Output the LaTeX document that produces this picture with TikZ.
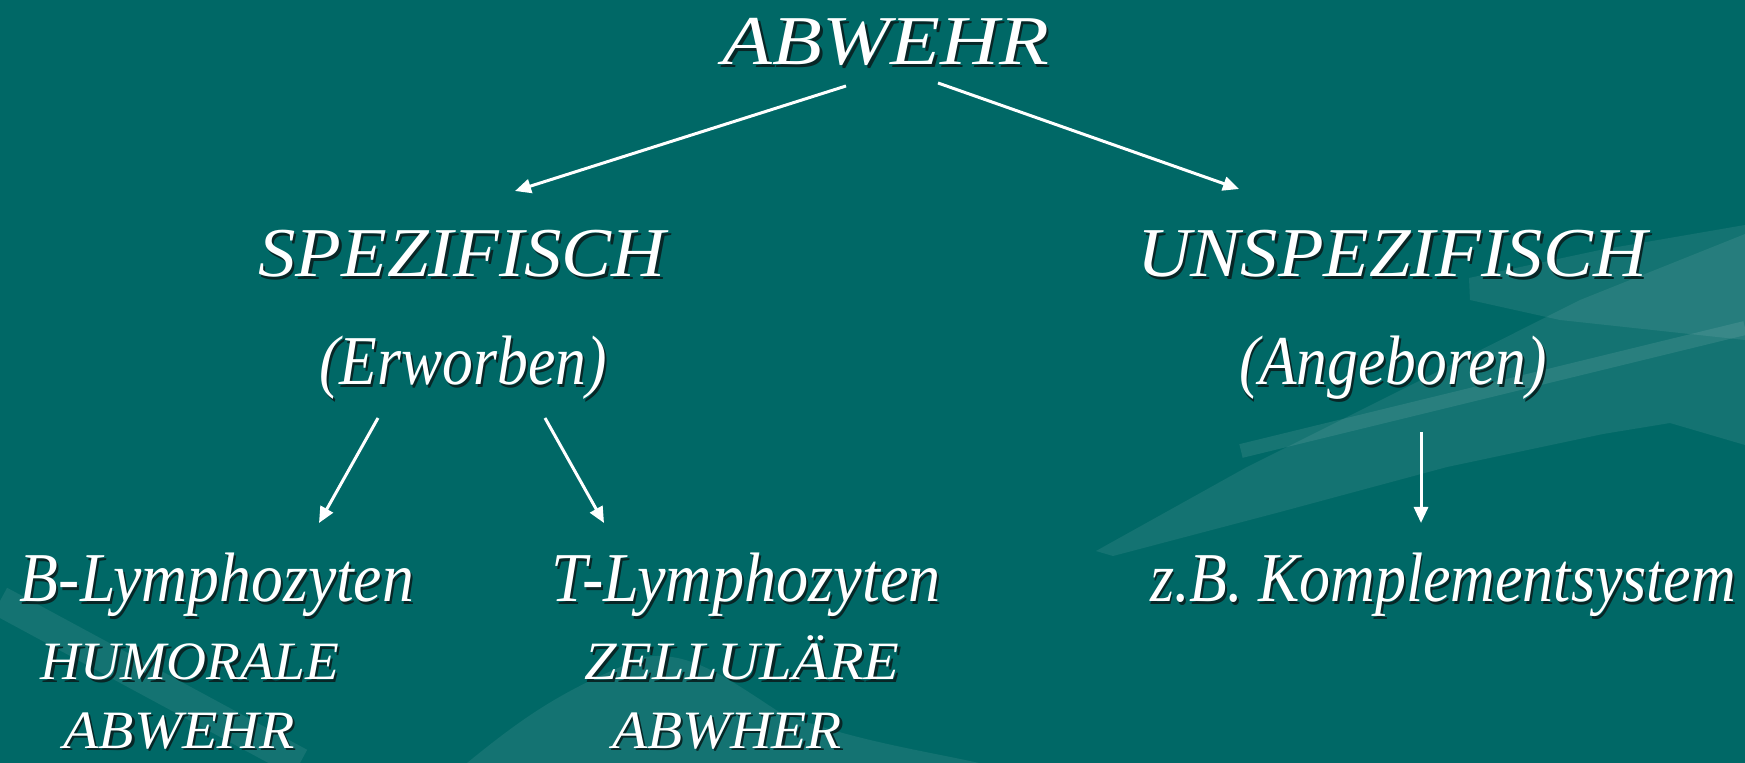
\documentclass[tikz,border=0pt]{standalone}
\usepackage{fontspec}
\setmainfont{Liberation Serif}
\usepackage{graphicx}
\usetikzlibrary{arrows.meta,calc}
\definecolor{bgteal}{RGB}{0,104,102}
\definecolor{shadowc}{RGB}{8,38,38}
\newcommand\shtxt[1]{\leavevmode\rlap{\kern1.1pt\raisebox{-1.1pt}{\textcolor{shadowc}{#1}}}#1}
\newcommand\fitw[2]{\resizebox{#1}{\height}{\shtxt{#2}}}
\begin{document}
\begin{tikzpicture}[x=0.5pt,y=-0.5pt,
  txt/.style={text=white,inner sep=0pt,anchor=base,font=\itshape\fontsize{35}{40}\selectfont},
  small/.style={txt,font=\itshape\fontsize{27}{32}\selectfont},
  arr/.style={draw=white,line width=1.5pt,-{Triangle[length=8pt,width=7pt]}},
  swoosh/.style={fill=white,fill opacity=0.08,draw=none}]
% background
\fill[bgteal] (0,0) rectangle (1745,763);
\useasboundingbox (0,0) rectangle (1745,763);
\fill[swoosh] (1096,551) -- (1247,467) -- (1447,367) -- (1580,300) -- (1745,234) -- (1745,445) -- (1670,423) -- (1603,434) -- (1447,467) -- (1280,512) -- (1113,556) -- cycle;
\fill[swoosh] (1469,278) -- (1600,250) -- (1745,225) -- (1745,340) -- (1560,320) -- (1470,300) -- cycle;
\draw[white,opacity=0.09,line width=7pt] (1241,451) -- (1745,328);
\draw[white,opacity=0.08,line width=15pt] (0,601) -- (300,763);
\fill[swoosh] (467,763) .. controls (520,720) and (560,690) .. (645,657) .. controls (690,650) and (730,680) .. (779,712) .. controls (850,740) and (920,750) .. (979,763) -- cycle;
% nodes
\node[txt] (top) at (886,65) {\fitw{163pt}{ABWEHR}};
\node[txt] (spez) at (462,277) {\fitw{203.7pt}{SPEZIFISCH}};
\node[txt] (unspez) at (1392,277) {\fitw{254.9pt}{UNSPEZIFISCH}};
\node[txt] (erw) at (463,385) {\fitw{143.6pt}{(Erworben)}};
\node[txt] (angeb) at (1393,385) {\fitw{154pt}{(Angeboren)}};
\node[txt] (blym) at (217,602) {\fitw{197pt}{B-Lymphozyten}};
\node[txt] (tlym) at (746,602) {\fitw{194.8pt}{T-Lymphozyten}};
\node[txt] (zb) at (1443,602) {\fitw{293pt}{z.B. Komplementsystem}};
\node[small] (hum) at (190,680) {\fitw{149pt}{HUMORALE}};
\node[small] (abw1) at (179,748) {\fitw{115.7pt}{ABWEHR}};
\node[small] (zell) at (742,680) {\fitw{157.5pt}{ZELLULÄRE}};
\node[small] (abw2) at (727,748) {\fitw{115pt}{ABWHER}};
% connectors
\draw[arr] ($(top.base)+(-40,21)$) -- ($(spez.base)+(53,-86)$);
\draw[arr] ($(top.base)+(52,18)$) -- ($(unspez.base)+(-153,-88)$);
\draw[arr] ($(erw.base)+(-85,33)$) -- ($(blym.base)+(102,-79)$);
\draw[arr] ($(erw.base)+(82,33)$) -- ($(tlym.base)+(-142,-79)$);
\draw[arr] ($(angeb.base)+(28,47)$) -- ($(zb.base)+(-22,-79)$);
\end{tikzpicture}
\end{document}
